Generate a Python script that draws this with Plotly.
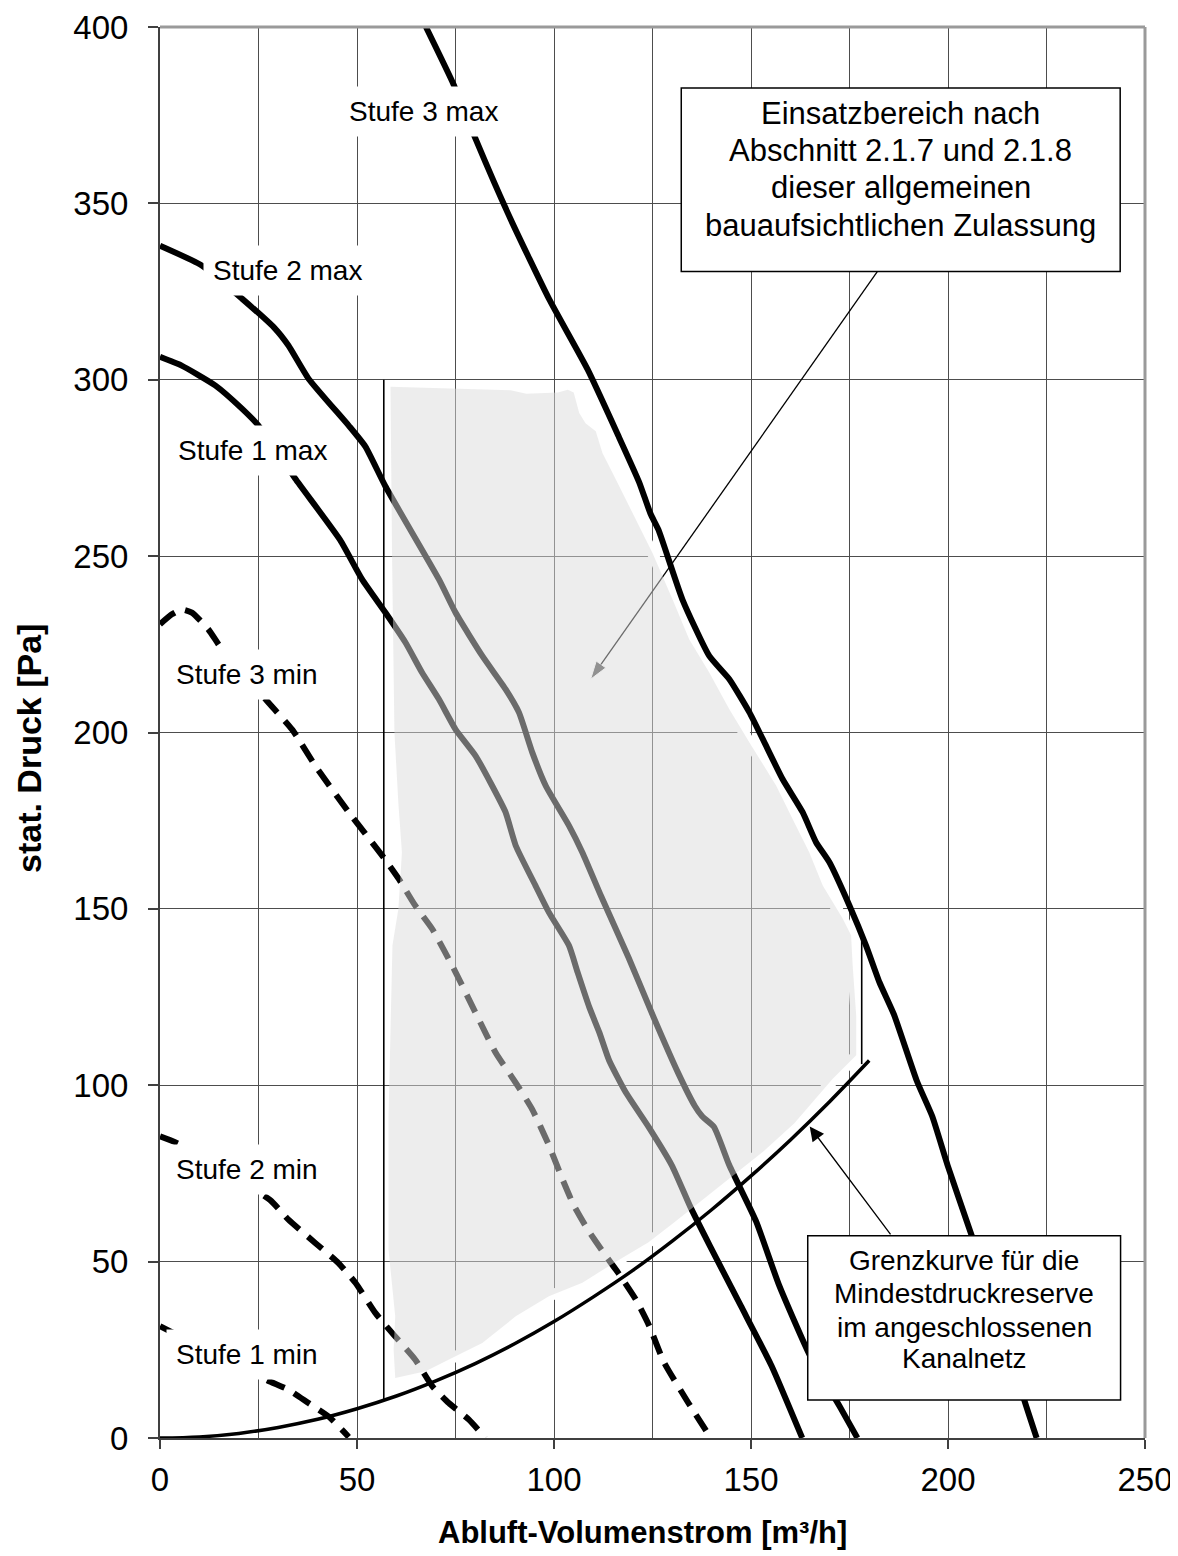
import plotly.graph_objects as go

# ---------------- data ----------------
s3max_x = [67.5, 74.6, 80.1, 89, 98.7, 108.5, 116.3, 121.6, 124.5, 126.5, 132.6, 139.4, 144.5, 149.6, 153, 158, 163.1,
           166.5, 169.9, 175, 179.2, 182.6, 186.3, 192.1, 196, 199.9, 205.7, 210.5, 215, 219.4, 222.5]
s3max_y = [400, 383.5, 368.3, 345.5, 323, 303, 284.2, 271, 262, 257.5, 237.7, 221.7, 215.1, 205.7, 198.1, 186.8, 177.4,
           168.9, 163.2, 150.9, 139.6, 129.2, 120, 101.2, 91.2, 77.3, 58.4, 43, 27, 10.6, 0]

s2max_x = [0, 10.6, 20.8, 29.2, 32.6, 37.7, 47.9, 52.1, 57.2, 70.8, 75, 81.8, 87.7, 91.1, 94.5, 97.9, 103.8, 107.2,
           112, 119, 125, 131.5, 135.7, 137.6, 140.6, 144.5, 151.3, 157.1, 164.9, 172.7, 177]
s2max_y = [338, 332.4, 323, 314.5, 309.7, 300.3, 287, 281.1, 269.8, 243.4, 234, 221.7, 212.3, 205.7, 194.3, 184.9,
           173.6, 166, 153.5, 136, 120, 103.5, 94.2, 91.2, 88.2, 77.3, 61.4, 43.4, 23.5, 8.6, 0]

s1max_x = [0, 5.5, 14, 20.8, 25, 34.3, 45.7, 51.3, 57.2, 62.3, 66.5, 70.8, 75, 80.1, 84.3, 87.7, 90.3, 95.3, 98.7,
           103.8, 106, 109, 111.5, 114, 118.2, 124, 129.9, 134.7, 139.6, 147.4, 155.2, 163]
s1max_y = [306.5, 304, 298.4, 291.8, 287, 272, 254.6, 243.4, 234, 225.5, 217, 209.4, 200.9, 193.4, 184.9, 177.4,
           167.9, 156.6, 149, 139.6, 132, 122, 115, 107, 98, 88.2, 77.3, 65.3, 54.4, 37.5, 20.5, 0]

s3min_x = [0, 3, 5.5, 8.1, 12.3, 15.7, 27.5, 33.5, 39.4, 47.9, 56.4, 60.6, 64.8, 69.1, 75, 85.2, 90.3, 94.5, 98.7,
           102.1, 105, 108.5, 112.4, 116.3, 120.8, 124.2, 127.9, 133.8, 139.8]
s3min_y = [230.7, 233.5, 234.9, 234, 229.2, 223.6, 208.5, 200.9, 190.6, 177.4, 165.1, 158.5, 150.9, 144.3, 132.1,
           109.2, 100.7, 93.1, 83, 73.5, 66, 59.2, 52.8, 46.8, 39.2, 31.7, 21.5, 10.5, 0]

s2min_x = [0, 5.1, 27.9, 32.6, 39.4, 45.3, 49.6, 54.7, 58.9, 64.8, 69.1, 73.3, 78.4, 82.6]
s2min_y = [85.5, 83.2, 67.5, 61.9, 55.3, 49.6, 44, 35.4, 29.8, 22.2, 14.7, 9.9, 5.2, 0]

s1min_x = [0, 27.1, 32.6, 37.7, 42.8, 47.9]
s1min_y = [31.7, 16.4, 13.7, 9.9, 6.1, 0.3]

grenz_x = [0, 10, 20, 30, 40, 50, 60, 70, 80, 90, 100, 110, 120, 130, 140, 150, 160, 170, 180]
grenz_y = [0, 0.3, 1.3, 3, 5.3, 8.3, 11.9, 16.2, 21.1, 26.7, 33, 40, 47.5, 55.8, 64.7, 74.3, 84.5, 95.4, 107]

# operating range (grey area)
region_x = [58.5, 75, 89, 93, 101, 103.5, 105, 106.4, 108, 110.6, 112.3, 115.7, 118.2, 122.5, 125, 130.1, 134.3,
            139.4, 144.5, 149.6, 156.4, 161.4, 164.8, 168.2, 173.3, 175.4, 175.8, 176.7, 176.7, 170.8, 166.5, 161,
            153.2, 145.4, 137.6, 130.8, 124, 115.7, 107.2, 98.7, 90.3, 81.8, 75, 67.4, 59.7, 59.3, 59.7, 58, 58,
            59, 60.5, 61.4, 60.5, 59.5, 58.9, 58.5]
region_y = [298, 297.5, 297, 296, 296.4, 297.2, 296.4, 290.6, 287.7, 285.4, 279.2, 271.7, 266, 256.6, 250.9,
            237.7, 226.4, 217, 206.6, 197.2, 184.9, 173.6, 166, 156.6, 147.2, 142.5, 134, 119.8, 108.5, 101.9,
            96.2, 89.2, 81.3, 74.3, 67.3, 61.4, 55.5, 50, 44, 40.2, 34.5, 26.9, 23.2, 18.9, 17, 25, 34.5, 53.4,
            91, 139.6, 150, 166, 180, 200, 250, 298]
halo_start, halo_end = 6, 45   # right and lower edge of the area

# boundary lines of the area
limit_left_x = [56.8, 56.8]
limit_left_y = [10.6, 300]
limit_right_x = [178.1, 178.1]
limit_right_y = [106, 142]

# pointer to the area
pointer1_x = [182.1, 109.3]
pointer1_y = [330.7, 215.1]

x_ticks = [0, 50, 100, 150, 200, 250]
y_ticks = [0, 50, 100, 150, 200, 250, 300, 350, 400]

FONT = "Liberation Sans, Arial, sans-serif"

# page body has an 8 px margin -> figure is 8 px smaller, margins reduced accordingly
W, H = 1170, 1548
ML, MR, MT, MB = 152, 33, 19, 118
PW, PH = W - ML - MR, H - MT - MB      # plot area size in px


def px_x(px):   # page pixel -> paper x
    return (px - 8 - ML) / PW


def px_y(py):   # page pixel -> paper y
    return (H - MB + 8 - py) / PH


fig = go.Figure()

# white halo around grey area (below curves)
fig.add_trace(go.Scatter(x=region_x[halo_start:halo_end], y=region_y[halo_start:halo_end], mode="lines",
                         line=dict(color="white", width=11), hoverinfo="skip", showlegend=False))

solid = [(s3max_x, s3max_y), (s2max_x, s2max_y), (s1max_x, s1max_y)]
for xs, ys in solid:
    fig.add_trace(go.Scatter(x=xs, y=ys, mode="lines", line=dict(color="black", width=6, shape="spline", smoothing=0.5),
                             showlegend=False))

dashed = [(s3min_x, s3min_y), (s2min_x, s2min_y), (s1min_x, s1min_y)]
for xs, ys in dashed:
    fig.add_trace(go.Scatter(x=xs, y=ys, mode="lines",
                             line=dict(color="black", width=6, dash="19px,11px", shape="spline", smoothing=0.5),
                             showlegend=False))

fig.add_trace(go.Scatter(x=grenz_x, y=grenz_y, mode="lines", line=dict(color="black", width=3.5, shape="spline"),
                         showlegend=False))

for xs, ys in [(limit_left_x, limit_left_y), (limit_right_x, limit_right_y)]:
    fig.add_trace(go.Scatter(x=xs, y=ys, mode="lines", line=dict(color="black", width=1.6), showlegend=False))

fig.add_trace(go.Scatter(x=pointer1_x, y=pointer1_y, mode="lines+markers",
                         line=dict(color="black", width=1.3),
                         marker=dict(symbol="arrow", size=[0, 19], angleref="previous", color="black"),
                         showlegend=False))

# grey area on top (semi-transparent)
fig.add_trace(go.Scatter(x=region_x, y=region_y, mode="lines", fill="toself",
                         fillcolor="rgba(218,218,218,0.49)", line=dict(width=0, color="rgba(0,0,0,0)"),
                         showlegend=False))

# ---------------- labels ----------------
labels = [("Stufe 3 max", 67, 376), ("Stufe 2 max", 32.4, 331), ("Stufe 1 max", 23.5, 280),
          ("Stufe 3 min", 22, 216.4), ("Stufe 2 min", 22, 76.2), ("Stufe 1 min", 22, 23.8)]
for txt, x, y in labels:
    fig.add_annotation(x=x, y=y, text=txt, showarrow=False, bgcolor="white", borderpad=9,
                       xanchor="center", yanchor="middle",
                       font=dict(family=FONT, size=28, color="black"))

# boxes
fig.add_shape(type="rect", x0=132.3, x1=243.7, y0=330.7, y1=382.7, line=dict(color="black", width=1.5),
              fillcolor="white", layer="above")
fig.add_shape(type="rect", x0=164.4, x1=243.8, y0=10.8, y1=57.3, line=dict(color="black", width=1.5),
              fillcolor="white", layer="above")

box1_lines = ["Einsatzbereich nach", "Abschnitt 2.1.7 und 2.1.8", "dieser allgemeinen",
              "bauaufsichtlichen Zulassung"]
for txt, y in zip(box1_lines, [375.4, 365.0, 354.4, 343.8]):
    fig.add_annotation(x=188, y=y, text=txt, showarrow=False, xanchor="center", yanchor="middle",
                       font=dict(family=FONT, size=31, color="black"))

box2_lines = ["Grenzkurve für die", "Mindestdruckreserve", "im angeschlossenen", "Kanalnetz"]
for txt, y in zip(box2_lines, [50.3, 40.9, 31.4, 22.5]):
    fig.add_annotation(x=204.1, y=y, text=txt, showarrow=False, xanchor="center", yanchor="middle",
                       font=dict(family=FONT, size=28, color="black"))

# arrow to limit curve
fig.add_annotation(x=164.9, y=88.3, ax=185.7, ay=57.3, axref="x", ayref="y", text="", showarrow=True,
                   arrowhead=2, arrowsize=2.2, arrowwidth=1.3, arrowcolor="black", standoff=0)

# axis titles
fig.add_annotation(xref="paper", yref="paper", x=px_x(642), y=px_y(1532),
                   xanchor="center", yanchor="middle",
                   text="<b>Abluft-Volumenstrom [m³/h]</b>", showarrow=False,
                   font=dict(family=FONT, size=31, color="black"))
fig.add_annotation(xref="paper", yref="paper", x=px_x(29), y=px_y(749),
                   xanchor="center", yanchor="middle",
                   text="<b>stat. Druck [Pa]</b>", showarrow=False, textangle=-90,
                   font=dict(family=FONT, size=34, color="black"))

# frame top/right
fig.add_shape(type="line", xref="paper", yref="paper", x0=0, x1=1, y0=1, y1=1, line=dict(color="#9a9a9a", width=3))
fig.add_shape(type="line", xref="paper", yref="paper", x0=1, x1=1, y0=0, y1=1, line=dict(color="#9a9a9a", width=3))

grid_c = "#4d4d4d"
fig.update_xaxes(range=[0, 250], tickvals=x_ticks, showgrid=True, gridcolor=grid_c, gridwidth=1,
                 minor=dict(dtick=25, showgrid=True, gridcolor=grid_c, gridwidth=1, ticks=""),
                 zeroline=False, showline=True, linecolor="#404040", linewidth=2,
                 ticks="outside", ticklen=9, tickwidth=1.5, tickcolor="#404040",
                 ticklabelstandoff=2, automargin=False,
                 tickfont=dict(family=FONT, size=33, color="black"))
fig.update_yaxes(range=[0, 400], tickvals=y_ticks, showgrid=True, gridcolor=grid_c, gridwidth=1,
                 zeroline=False, showline=True, linecolor="#404040", linewidth=2,
                 ticks="outside", ticklen=10, tickwidth=1.5, tickcolor="#404040",
                 ticklabelstandoff=13, automargin=False,
                 tickfont=dict(family=FONT, size=33, color="black"))

fig.update_layout(width=W, height=H, margin=dict(l=ML, r=MR, t=MT, b=MB, autoexpand=False),
                  plot_bgcolor="white", paper_bgcolor="white", showlegend=False)

fig.write_html("out.html")
